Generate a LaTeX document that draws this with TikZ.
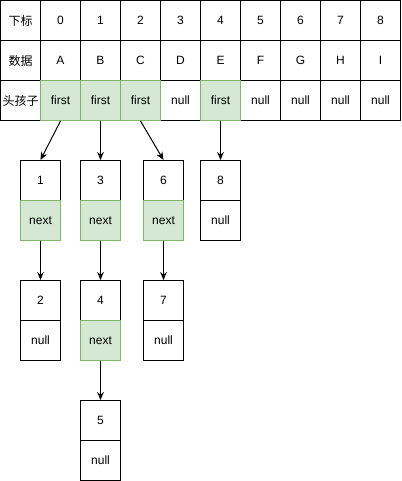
\documentclass[tikz,border=0pt]{standalone}
\usepackage{fontspec}
\setmainfont{Liberation Sans}
\newfontfamily\cjk{Noto Sans CJK SC}
\usetikzlibrary{arrows.meta}
\definecolor{gfill}{HTML}{D5E8D4}
\definecolor{gline}{HTML}{82B366}
\tikzset{
  cell/.style={draw=black, line width=0.75pt, minimum width=30pt, minimum height=30pt, inner sep=0pt, font=\fontsize{9}{11}\selectfont},
  gcell/.style={cell, draw=gline, fill=gfill},
  arr/.style={line width=0.75pt, -{Stealth[length=6pt, width=5pt, inset=2pt]}}
}
\begin{document}
\begin{tikzpicture}[x=0.75pt, y=-0.75pt]
\useasboundingbox (-0.5,-0.5) rectangle (400.5,480.5);
% header table
\node[cell] (h0) at (20,20) {\cjk 下标};
\node[cell] (d0) at (20,60) {\cjk 数据};
\node[cell] (f0) at (20,100) {\cjk 头孩子};
\foreach \i/\d in {0/A,1/B,2/C,3/D,4/E,5/F,6/G,7/H,8/I} {
  \node[cell] (h\i x) at ({60+40*\i},20) {\i};
  \node[cell] (d\i x) at ({60+40*\i},60) {\d};
}
\node[cell] (n3) at (180,100) {null};
\node[cell] (n5) at (260,100) {null};
\node[cell] (n6) at (300,100) {null};
\node[cell] (n7) at (340,100) {null};
\node[cell] (n8) at (380,100) {null};
\node[gcell] (c0) at (60,100) {first};
\node[gcell] (c1) at (100,100) {first};
\node[gcell] (c2) at (140,100) {first};
\node[gcell] (c4) at (220,100) {first};
% linked nodes
\node[cell] (a1) at (40,180) {1};
\node[gcell] (a1n) at (40,220) {next};
\node[cell] (b3) at (100,180) {3};
\node[gcell] (b3n) at (100,220) {next};
\node[cell] (e6) at (163,180) {6};
\node[gcell] (e6n) at (163,220) {next};
\node[cell] (g8) at (220,180) {8};
\node[cell] (g8n) at (220,220) {null};
\node[cell] (a2) at (40,300) {2};
\node[cell] (a2n) at (40,340) {null};
\node[cell] (b4) at (100,300) {4};
\node[gcell] (b4n) at (100,340) {next};
\node[cell] (e7) at (163,300) {7};
\node[cell] (e7n) at (163,340) {null};
\node[cell] (b5) at (100,420) {5};
\node[cell] (b5n) at (100,460) {null};
% arrows
\draw[arr] (c0.south) -- (a1.north);
\draw[arr] (c1.south) -- (b3.north);
\draw[arr] (c2.south) -- (e6.north);
\draw[arr] (c4.south) -- (g8.north);
\draw[arr] (a1n.south) -- (a2.north);
\draw[arr] (b3n.south) -- (b4.north);
\draw[arr] (e6n.south) -- (e7.north);
\draw[arr] (b4n.south) -- (b5.north);
\end{tikzpicture}
\end{document}
